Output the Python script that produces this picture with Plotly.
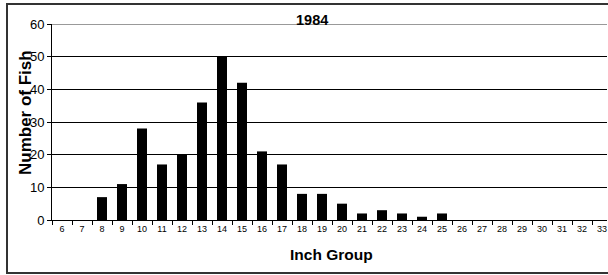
import plotly.graph_objects as go

inch_groups = [str(i) for i in range(6, 34)]
fish_counts = [0, 0, 7, 11, 28, 17, 20, 36, 50, 42, 21, 17, 8, 8, 5, 2, 3, 2, 1, 2,
               0, 0, 0, 0, 0, 0, 0, 0]
y_ticks = [0, 10, 20, 30, 40, 50, 60]

W, H = 608, 275
L, R, T, B = 52, 1, 24, 55
pw, ph = W - L - R, H - T - B

def px(x):
    return (x - L) / pw

def py(y):
    return (H - B - y) / ph

fig = go.Figure(go.Bar(x=inch_groups, y=fish_counts, marker=dict(color="black", line=dict(width=0)), width=0.5))

fig.update_layout(
    width=W, height=H,
    margin=dict(l=L, r=R, t=T, b=B, autoexpand=False),
    paper_bgcolor="white", plot_bgcolor="white",
    font=dict(family="Liberation Sans, Arial, sans-serif", color="black"),
    showlegend=False,
    xaxis=dict(type="category", range=[-0.5, 27.25], tickson="boundaries",
               ticks="outside", ticklen=4, tickcolor="black", showline=True,
               linecolor="black", linewidth=1, showgrid=False, automargin=False,
               tickfont=dict(size=9), tickangle=0),
    yaxis=dict(range=[0, 60], tickvals=y_ticks, ticks="outside", ticklen=4,
               tickcolor="black", showline=True, linecolor="black", linewidth=1,
               showgrid=True, gridcolor="black", gridwidth=1, zeroline=False,
               automargin=False, tickfont=dict(size=13)),
    shapes=[
        dict(type="line", xref="paper", yref="y", x0=0, x1=1, y0=60, y1=60,
             line=dict(color="#999999", width=2)),
        dict(type="rect", xref="paper", yref="paper", x0=px(7), x1=px(640),
             y0=py(273), y1=py(4), line=dict(color="#333333", width=2)),
    ],
    annotations=[
        dict(text="<b>1984</b>", xref="paper", yref="paper", x=px(312), y=py(20),
             showarrow=False, font=dict(size=14.5), xanchor="center", yanchor="middle"),
        dict(text="<b>Number of Fish</b>", xref="paper", yref="paper", x=px(25), y=py(113),
             showarrow=False, font=dict(size=17), textangle=-90, xanchor="center", yanchor="middle"),
        dict(text="<b>Inch Group</b>", xref="paper", yref="paper", x=px(331), y=py(254),
             showarrow=False, font=dict(size=15.5), xanchor="center", yanchor="middle"),
    ],
)

fig.write_html("out.html", config={"displayModeBar": False},
               post_script="document.body.style.margin='0';document.body.style.overflow='hidden';")
